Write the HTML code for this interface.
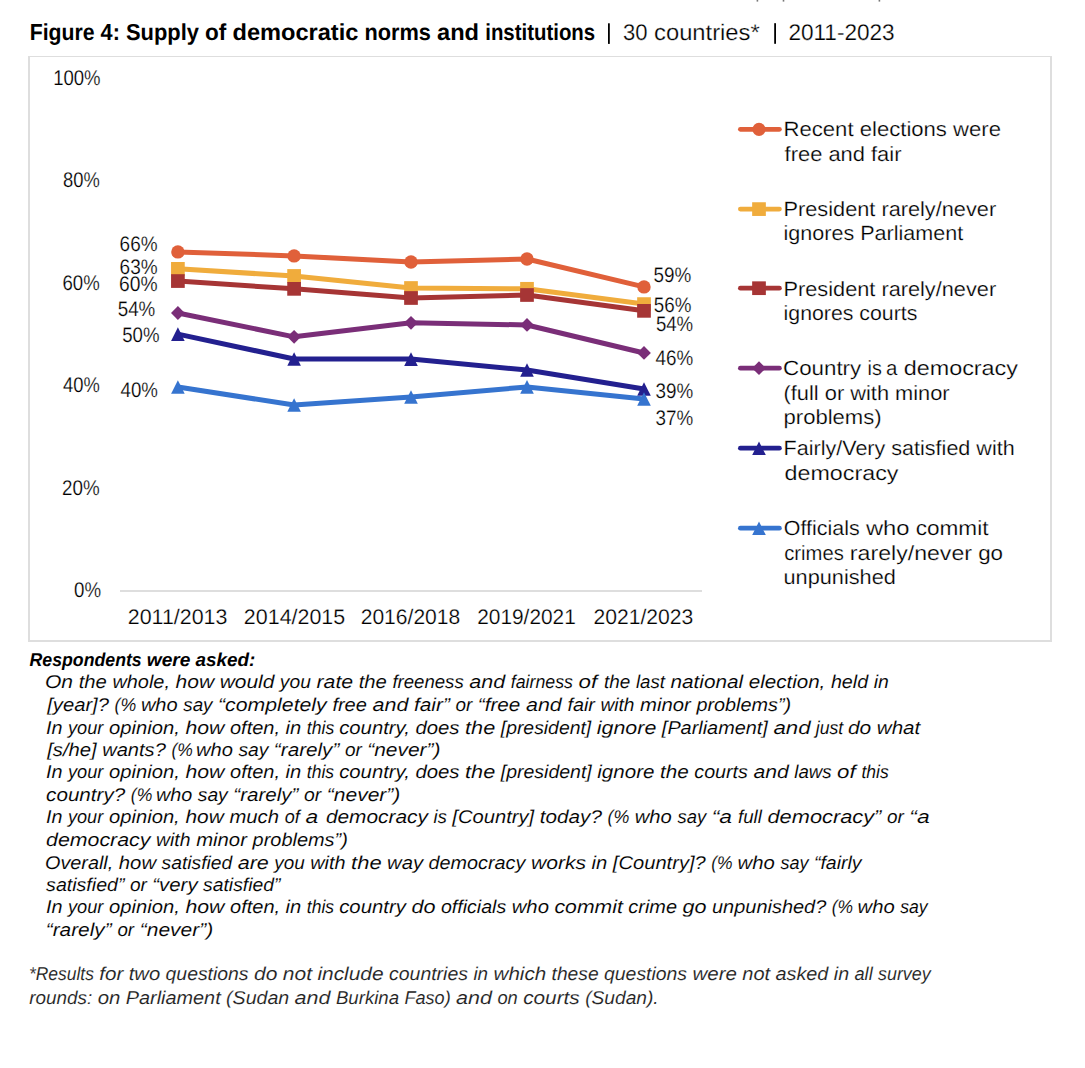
<!DOCTYPE html>
<html><head><meta charset="utf-8"><style>
html,body{margin:0;padding:0;background:#fff;width:1085px;height:1068px;overflow:hidden}
svg{display:block;font-family:"Liberation Sans", sans-serif;text-rendering:geometricPrecision}
</style></head><body>
<svg width="1085" height="1068" viewBox="0 0 1085 1068">
<rect x="0" y="0" width="1085" height="1068" fill="#fff"/>
<rect x="756.6" y="0" width="1.6" height="1.6" fill="#777"/>
<rect x="782.7" y="0" width="1.6" height="1.6" fill="#777"/>
<rect x="878.6" y="0" width="1.6" height="1.6" fill="#777"/>
<rect x="28" y="56" width="1024" height="1" fill="#dedede"/>
<rect x="28" y="56" width="2" height="586" fill="#dedede"/>
<rect x="1050" y="56" width="2" height="586" fill="#dedede"/>
<rect x="28" y="640" width="1024" height="2" fill="#dedede"/>
<rect x="120" y="590" width="582" height="2" fill="#dedede"/>
<rect x="608.0" y="23.3" width="1.8" height="20.6" fill="#000"/>
<rect x="774.2" y="23.2" width="1.8" height="20.6" fill="#000"/>
<polyline points="177.9,251.90 294.1,255.90 411.0,262.00 527.0,259.00 644.0,286.90" fill="none" stroke="#E0603A" stroke-width="5" stroke-linejoin="round" stroke-linecap="round"/>
<circle cx="177.90" cy="251.90" r="6.7" fill="#E0603A"/>
<circle cx="294.10" cy="255.90" r="6.7" fill="#E0603A"/>
<circle cx="411.00" cy="262.00" r="6.7" fill="#E0603A"/>
<circle cx="527.00" cy="259.00" r="6.7" fill="#E0603A"/>
<circle cx="644.00" cy="286.90" r="6.7" fill="#E0603A"/>
<polyline points="177.9,268.85 294.1,275.95 411.0,288.00 527.0,288.80 644.0,304.10" fill="none" stroke="#F0AC3C" stroke-width="5" stroke-linejoin="round" stroke-linecap="round"/>
<rect x="171.05" y="262.00" width="13.7" height="13.7" fill="#F0AC3C"/>
<rect x="287.25" y="269.10" width="13.7" height="13.7" fill="#F0AC3C"/>
<rect x="404.15" y="281.15" width="13.7" height="13.7" fill="#F0AC3C"/>
<rect x="520.15" y="281.95" width="13.7" height="13.7" fill="#F0AC3C"/>
<rect x="637.15" y="297.25" width="13.7" height="13.7" fill="#F0AC3C"/>
<polyline points="177.9,281.05 294.1,288.85 411.0,298.00 527.0,295.00 644.0,310.85" fill="none" stroke="#A63535" stroke-width="5" stroke-linejoin="round" stroke-linecap="round"/>
<rect x="171.05" y="274.20" width="13.7" height="13.7" fill="#A63535"/>
<rect x="287.25" y="282.00" width="13.7" height="13.7" fill="#A63535"/>
<rect x="404.15" y="291.15" width="13.7" height="13.7" fill="#A63535"/>
<rect x="520.15" y="288.15" width="13.7" height="13.7" fill="#A63535"/>
<rect x="637.15" y="304.00" width="13.7" height="13.7" fill="#A63535"/>
<polyline points="177.9,313.00 294.1,336.85 411.0,322.85 527.0,324.95 644.0,352.95" fill="none" stroke="#7A2E78" stroke-width="5" stroke-linejoin="round" stroke-linecap="round"/>
<polygon points="177.90,306.10 184.80,313.00 177.90,319.90 171.00,313.00" fill="#7A2E78"/>
<polygon points="294.10,329.95 301.00,336.85 294.10,343.75 287.20,336.85" fill="#7A2E78"/>
<polygon points="411.00,315.95 417.90,322.85 411.00,329.75 404.10,322.85" fill="#7A2E78"/>
<polygon points="527.00,318.05 533.90,324.95 527.00,331.85 520.10,324.95" fill="#7A2E78"/>
<polygon points="644.00,346.05 650.90,352.95 644.00,359.85 637.10,352.95" fill="#7A2E78"/>
<polyline points="177.9,334.10 294.1,359.00 411.0,359.10 527.0,370.00 644.0,388.95" fill="none" stroke="#23208F" stroke-width="5" stroke-linejoin="round" stroke-linecap="round"/>
<polygon points="177.90,327.30 184.70,340.90 171.10,340.90" fill="#23208F"/>
<polygon points="294.10,352.20 300.90,365.80 287.30,365.80" fill="#23208F"/>
<polygon points="411.00,352.30 417.80,365.90 404.20,365.90" fill="#23208F"/>
<polygon points="527.00,363.20 533.80,376.80 520.20,376.80" fill="#23208F"/>
<polygon points="644.00,382.15 650.80,395.75 637.20,395.75" fill="#23208F"/>
<polyline points="177.9,387.05 294.1,405.00 411.0,397.05 527.0,386.90 644.0,398.95" fill="none" stroke="#3674CF" stroke-width="5" stroke-linejoin="round" stroke-linecap="round"/>
<polygon points="177.90,380.25 184.70,393.85 171.10,393.85" fill="#3674CF"/>
<polygon points="294.10,398.20 300.90,411.80 287.30,411.80" fill="#3674CF"/>
<polygon points="411.00,390.25 417.80,403.85 404.20,403.85" fill="#3674CF"/>
<polygon points="527.00,380.10 533.80,393.70 520.20,393.70" fill="#3674CF"/>
<polygon points="644.00,392.15 650.80,405.75 637.20,405.75" fill="#3674CF"/>
<line x1="740.4" y1="129.3" x2="779.4" y2="129.3" stroke="#E0603A" stroke-width="4.8" stroke-linecap="round"/>
<circle cx="759.00" cy="129.30" r="6.6" fill="#E0603A"/>
<line x1="740.4" y1="209.1" x2="779.4" y2="209.1" stroke="#F0AC3C" stroke-width="4.8" stroke-linecap="round"/>
<rect x="752.15" y="202.25" width="13.7" height="13.7" fill="#F0AC3C"/>
<line x1="740.4" y1="288.2" x2="779.4" y2="288.2" stroke="#A63535" stroke-width="4.8" stroke-linecap="round"/>
<rect x="752.15" y="281.35" width="13.7" height="13.7" fill="#A63535"/>
<line x1="740.4" y1="368.2" x2="779.4" y2="368.2" stroke="#7A2E78" stroke-width="4.8" stroke-linecap="round"/>
<polygon points="759.00,361.30 765.90,368.20 759.00,375.10 752.10,368.20" fill="#7A2E78"/>
<line x1="740.4" y1="448.2" x2="779.4" y2="448.2" stroke="#23208F" stroke-width="4.8" stroke-linecap="round"/>
<polygon points="759.00,441.40 765.80,455.00 752.20,455.00" fill="#23208F"/>
<line x1="740.4" y1="528.2" x2="779.4" y2="528.2" stroke="#3674CF" stroke-width="4.8" stroke-linecap="round"/>
<polygon points="759.00,521.40 765.80,535.00 752.20,535.00" fill="#3674CF"/>
<text x="29.68" y="39.90" font-size="23.1" font-weight="bold" textLength="64.84" lengthAdjust="spacingAndGlyphs">Figure</text>
<text x="100.60" y="39.90" font-size="23.1" font-weight="bold" textLength="19.29" lengthAdjust="spacingAndGlyphs">4:</text>
<text x="126.00" y="39.90" font-size="23.1" font-weight="bold" textLength="72.99" lengthAdjust="spacingAndGlyphs">Supply</text>
<text x="205.10" y="39.90" font-size="23.1" font-weight="bold" textLength="21.29" lengthAdjust="spacingAndGlyphs">of</text>
<text x="232.50" y="39.90" font-size="23.1" font-weight="bold" textLength="125.84" lengthAdjust="spacingAndGlyphs">democratic</text>
<text x="364.46" y="39.90" font-size="23.1" font-weight="bold" textLength="66.44" lengthAdjust="spacingAndGlyphs">norms</text>
<text x="437.00" y="39.90" font-size="23.1" font-weight="bold" textLength="42.04" lengthAdjust="spacingAndGlyphs">and</text>
<text x="485.22" y="39.90" font-size="23.1" font-weight="bold" textLength="109.93" lengthAdjust="spacingAndGlyphs">institutions</text>
<text x="623.10" y="39.60" font-size="22.6" textLength="24.50" lengthAdjust="spacingAndGlyphs" stroke="#fff" stroke-width="0.25">30</text>
<text x="654.10" y="39.60" font-size="22.6" textLength="105.58" lengthAdjust="spacingAndGlyphs" stroke="#fff" stroke-width="0.25">countries*</text>
<text x="788.40" y="39.50" font-size="22.6" textLength="106.26" lengthAdjust="spacingAndGlyphs" stroke="#fff" stroke-width="0.25">2011-2023</text>
<text x="53.13" y="84.60" font-size="21.3" textLength="47.42" lengthAdjust="spacingAndGlyphs" stroke="#fff" stroke-width="0.22">100%</text>
<text x="63.00" y="186.60" font-size="21.3" textLength="36.75" lengthAdjust="spacingAndGlyphs" stroke="#fff" stroke-width="0.22">80%</text>
<text x="62.53" y="289.60" font-size="21.3" textLength="37.22" lengthAdjust="spacingAndGlyphs" stroke="#fff" stroke-width="0.22">60%</text>
<text x="63.00" y="391.60" font-size="21.3" textLength="36.75" lengthAdjust="spacingAndGlyphs" stroke="#fff" stroke-width="0.22">40%</text>
<text x="62.12" y="494.60" font-size="21.3" textLength="37.63" lengthAdjust="spacingAndGlyphs" stroke="#fff" stroke-width="0.22">20%</text>
<text x="74.10" y="596.60" font-size="21.3" textLength="27.04" lengthAdjust="spacingAndGlyphs" stroke="#fff" stroke-width="0.22">0%</text>
<text x="127.78" y="623.90" font-size="21.0" textLength="99.61" lengthAdjust="spacingAndGlyphs" stroke="#fff" stroke-width="0.22">2011/2013</text>
<text x="243.88" y="623.90" font-size="21.0" textLength="101.31" lengthAdjust="spacingAndGlyphs" stroke="#fff" stroke-width="0.22">2014/2015</text>
<text x="360.70" y="623.90" font-size="21.0" textLength="99.58" lengthAdjust="spacingAndGlyphs" stroke="#fff" stroke-width="0.22">2016/2018</text>
<text x="477.21" y="623.90" font-size="21.0" textLength="98.57" lengthAdjust="spacingAndGlyphs" stroke="#fff" stroke-width="0.22">2019/2021</text>
<text x="593.49" y="623.90" font-size="21.0" textLength="99.89" lengthAdjust="spacingAndGlyphs" stroke="#fff" stroke-width="0.22">2021/2023</text>
<text x="119.60" y="251.10" font-size="21.0" textLength="37.91" lengthAdjust="spacingAndGlyphs" stroke="#fff" stroke-width="0.22">66%</text>
<text x="119.60" y="274.20" font-size="21.0" textLength="38.01" lengthAdjust="spacingAndGlyphs" stroke="#fff" stroke-width="0.22">63%</text>
<text x="118.98" y="290.70" font-size="21.0" textLength="38.53" lengthAdjust="spacingAndGlyphs" stroke="#fff" stroke-width="0.22">60%</text>
<text x="117.70" y="315.90" font-size="21.0" textLength="37.60" lengthAdjust="spacingAndGlyphs" stroke="#fff" stroke-width="0.22">54%</text>
<text x="122.20" y="341.50" font-size="21.0" textLength="37.30" lengthAdjust="spacingAndGlyphs" stroke="#fff" stroke-width="0.22">50%</text>
<text x="120.50" y="396.80" font-size="21.0" textLength="37.40" lengthAdjust="spacingAndGlyphs" stroke="#fff" stroke-width="0.22">40%</text>
<text x="653.60" y="282.10" font-size="21.0" textLength="37.80" lengthAdjust="spacingAndGlyphs" stroke="#fff" stroke-width="0.22">59%</text>
<text x="653.80" y="311.90" font-size="21.0" textLength="37.60" lengthAdjust="spacingAndGlyphs" stroke="#fff" stroke-width="0.22">56%</text>
<text x="655.90" y="330.80" font-size="21.0" textLength="37.30" lengthAdjust="spacingAndGlyphs" stroke="#fff" stroke-width="0.22">54%</text>
<text x="655.50" y="364.60" font-size="21.0" textLength="37.70" lengthAdjust="spacingAndGlyphs" stroke="#fff" stroke-width="0.22">46%</text>
<text x="655.50" y="398.00" font-size="21.0" textLength="37.70" lengthAdjust="spacingAndGlyphs" stroke="#fff" stroke-width="0.22">39%</text>
<text x="655.50" y="425.10" font-size="21.0" textLength="37.70" lengthAdjust="spacingAndGlyphs" stroke="#fff" stroke-width="0.22">37%</text>
<text x="783.53" y="135.80" font-size="20.6" textLength="217.46" lengthAdjust="spacingAndGlyphs" stroke="#fff" stroke-width="0.22">Recent elections were</text>
<text x="784.60" y="160.70" font-size="20.6" textLength="116.85" lengthAdjust="spacingAndGlyphs" stroke="#fff" stroke-width="0.22">free and fair</text>
<text x="783.54" y="215.80" font-size="20.6" textLength="212.61" lengthAdjust="spacingAndGlyphs" stroke="#fff" stroke-width="0.22">President rarely/never</text>
<text x="783.55" y="240.20" font-size="20.6" textLength="179.66" lengthAdjust="spacingAndGlyphs" stroke="#fff" stroke-width="0.22">ignores Parliament</text>
<text x="783.54" y="295.50" font-size="20.6" textLength="212.61" lengthAdjust="spacingAndGlyphs" stroke="#fff" stroke-width="0.22">President rarely/never</text>
<text x="783.57" y="319.80" font-size="20.6" textLength="133.84" lengthAdjust="spacingAndGlyphs" stroke="#fff" stroke-width="0.22">ignores courts</text>
<text x="783.02" y="375.20" font-size="20.6" textLength="78.18" lengthAdjust="spacingAndGlyphs" stroke="#fff" stroke-width="0.22">Country</text>
<text x="867.54" y="375.20" font-size="20.6" textLength="14.22" lengthAdjust="spacingAndGlyphs" stroke="#fff" stroke-width="0.22">is</text>
<text x="886.10" y="375.20" font-size="20.6" textLength="11.38" lengthAdjust="spacingAndGlyphs" stroke="#fff" stroke-width="0.22">a</text>
<text x="903.70" y="375.20" font-size="20.6" textLength="114.30" lengthAdjust="spacingAndGlyphs" stroke="#fff" stroke-width="0.22">democracy</text>
<text x="783.54" y="399.60" font-size="20.6" textLength="166.11" lengthAdjust="spacingAndGlyphs" stroke="#fff" stroke-width="0.22">(full or with minor</text>
<text x="783.53" y="424.00" font-size="20.6" textLength="98.09" lengthAdjust="spacingAndGlyphs" stroke="#fff" stroke-width="0.22">problems)</text>
<text x="783.55" y="455.20" font-size="20.6" textLength="231.12" lengthAdjust="spacingAndGlyphs" stroke="#fff" stroke-width="0.22">Fairly/Very satisfied with</text>
<text x="784.60" y="479.60" font-size="20.6" textLength="113.81" lengthAdjust="spacingAndGlyphs" stroke="#fff" stroke-width="0.22">democracy</text>
<text x="783.80" y="535.20" font-size="20.6" textLength="75.87" lengthAdjust="spacingAndGlyphs" stroke="#fff" stroke-width="0.22">Officials</text>
<text x="865.95" y="535.20" font-size="20.6" textLength="43.60" lengthAdjust="spacingAndGlyphs" stroke="#fff" stroke-width="0.22">who</text>
<text x="915.70" y="535.20" font-size="20.6" textLength="72.79" lengthAdjust="spacingAndGlyphs" stroke="#fff" stroke-width="0.22">commit</text>
<text x="784.20" y="559.60" font-size="20.6" textLength="59.58" lengthAdjust="spacingAndGlyphs" stroke="#fff" stroke-width="0.22">crimes</text>
<text x="849.88" y="559.60" font-size="20.6" textLength="122.13" lengthAdjust="spacingAndGlyphs" stroke="#fff" stroke-width="0.22">rarely/never</text>
<text x="978.20" y="559.60" font-size="20.6" textLength="24.89" lengthAdjust="spacingAndGlyphs" stroke="#fff" stroke-width="0.22">go</text>
<text x="783.55" y="584.00" font-size="20.6" textLength="112.23" lengthAdjust="spacingAndGlyphs" stroke="#fff" stroke-width="0.22">unpunished</text>
<text x="29.50" y="665.90" font-size="18.7" font-weight="bold" font-style="italic" textLength="112.22" lengthAdjust="spacingAndGlyphs">Respondents</text>
<text x="146.80" y="665.90" font-size="18.7" font-weight="bold" font-style="italic" textLength="43.62" lengthAdjust="spacingAndGlyphs">were</text>
<text x="195.50" y="665.90" font-size="18.7" font-weight="bold" font-style="italic" textLength="59.73" lengthAdjust="spacingAndGlyphs">asked:</text>
<text x="44.96" y="688.00" font-size="18.5" font-style="italic" textLength="28.12" lengthAdjust="spacingAndGlyphs" stroke="#fff" stroke-width="0.1">On</text>
<text x="78.70" y="688.00" font-size="18.5" font-style="italic" textLength="28.14" lengthAdjust="spacingAndGlyphs" stroke="#fff" stroke-width="0.1">the</text>
<text x="112.40" y="688.00" font-size="18.5" font-style="italic" textLength="57.54" lengthAdjust="spacingAndGlyphs" stroke="#fff" stroke-width="0.1">whole,</text>
<text x="175.50" y="688.00" font-size="18.5" font-style="italic" textLength="38.64" lengthAdjust="spacingAndGlyphs" stroke="#fff" stroke-width="0.1">how</text>
<text x="219.70" y="688.00" font-size="18.5" font-style="italic" textLength="54.71" lengthAdjust="spacingAndGlyphs" stroke="#fff" stroke-width="0.1">would</text>
<text x="279.88" y="688.00" font-size="18.5" font-style="italic" textLength="30.98" lengthAdjust="spacingAndGlyphs" stroke="#fff" stroke-width="0.1">you</text>
<text x="316.50" y="688.00" font-size="18.5" font-style="italic" textLength="36.64" lengthAdjust="spacingAndGlyphs" stroke="#fff" stroke-width="0.1">rate</text>
<text x="358.70" y="688.00" font-size="18.5" font-style="italic" textLength="28.14" lengthAdjust="spacingAndGlyphs" stroke="#fff" stroke-width="0.1">the</text>
<text x="392.40" y="688.00" font-size="18.5" font-style="italic" textLength="71.34" lengthAdjust="spacingAndGlyphs" stroke="#fff" stroke-width="0.1">freeness</text>
<text x="469.30" y="688.00" font-size="18.5" font-style="italic" textLength="35.94" lengthAdjust="spacingAndGlyphs" stroke="#fff" stroke-width="0.1">and</text>
<text x="510.80" y="688.00" font-size="18.5" font-style="italic" textLength="62.14" lengthAdjust="spacingAndGlyphs" stroke="#fff" stroke-width="0.1">fairness</text>
<text x="578.50" y="688.00" font-size="18.5" font-style="italic" textLength="18.68" lengthAdjust="spacingAndGlyphs" stroke="#fff" stroke-width="0.1">of</text>
<text x="604.10" y="688.00" font-size="18.5" font-style="italic" textLength="26.24" lengthAdjust="spacingAndGlyphs" stroke="#fff" stroke-width="0.1">the</text>
<text x="635.90" y="688.00" font-size="18.5" font-style="italic" textLength="29.04" lengthAdjust="spacingAndGlyphs" stroke="#fff" stroke-width="0.1">last</text>
<text x="670.50" y="688.00" font-size="18.5" font-style="italic" textLength="72.64" lengthAdjust="spacingAndGlyphs" stroke="#fff" stroke-width="0.1">national</text>
<text x="748.70" y="688.00" font-size="18.5" font-style="italic" textLength="76.64" lengthAdjust="spacingAndGlyphs" stroke="#fff" stroke-width="0.1">election,</text>
<text x="830.90" y="688.00" font-size="18.5" font-style="italic" textLength="37.24" lengthAdjust="spacingAndGlyphs" stroke="#fff" stroke-width="0.1">held</text>
<text x="873.70" y="688.00" font-size="18.5" font-style="italic" textLength="15.10" lengthAdjust="spacingAndGlyphs" stroke="#fff" stroke-width="0.1">in</text>
<text x="47.19" y="711.10" font-size="18.5" font-style="italic" textLength="61.80" lengthAdjust="spacingAndGlyphs" stroke="#fff" stroke-width="0.1">[year]?</text>
<text x="114.60" y="711.10" font-size="18.5" font-style="italic" textLength="21.72" lengthAdjust="spacingAndGlyphs" stroke="#fff" stroke-width="0.1">(%</text>
<text x="140.90" y="711.10" font-size="18.5" font-style="italic" textLength="36.79" lengthAdjust="spacingAndGlyphs" stroke="#fff" stroke-width="0.1">who</text>
<text x="183.30" y="711.10" font-size="18.5" font-style="italic" textLength="29.20" lengthAdjust="spacingAndGlyphs" stroke="#fff" stroke-width="0.1">say</text>
<text x="218.05" y="711.10" font-size="18.5" font-style="italic" textLength="108.68" lengthAdjust="spacingAndGlyphs" stroke="#fff" stroke-width="0.1">“completely</text>
<text x="332.40" y="711.10" font-size="18.5" font-style="italic" textLength="34.49" lengthAdjust="spacingAndGlyphs" stroke="#fff" stroke-width="0.1">free</text>
<text x="372.50" y="711.10" font-size="18.5" font-style="italic" textLength="35.89" lengthAdjust="spacingAndGlyphs" stroke="#fff" stroke-width="0.1">and</text>
<text x="414.00" y="711.10" font-size="18.5" font-style="italic" textLength="35.89" lengthAdjust="spacingAndGlyphs" stroke="#fff" stroke-width="0.1">fair”</text>
<text x="455.50" y="711.10" font-size="18.5" font-style="italic" textLength="16.80" lengthAdjust="spacingAndGlyphs" stroke="#fff" stroke-width="0.1">or</text>
<text x="477.88" y="711.10" font-size="18.5" font-style="italic" textLength="42.48" lengthAdjust="spacingAndGlyphs" stroke="#fff" stroke-width="0.1">“free</text>
<text x="526.00" y="711.10" font-size="18.5" font-style="italic" textLength="35.79" lengthAdjust="spacingAndGlyphs" stroke="#fff" stroke-width="0.1">and</text>
<text x="567.40" y="711.10" font-size="18.5" font-style="italic" textLength="27.49" lengthAdjust="spacingAndGlyphs" stroke="#fff" stroke-width="0.1">fair</text>
<text x="600.50" y="711.10" font-size="18.5" font-style="italic" textLength="33.99" lengthAdjust="spacingAndGlyphs" stroke="#fff" stroke-width="0.1">with</text>
<text x="640.10" y="711.10" font-size="18.5" font-style="italic" textLength="50.78" lengthAdjust="spacingAndGlyphs" stroke="#fff" stroke-width="0.1">minor</text>
<text x="696.47" y="711.10" font-size="18.5" font-style="italic" textLength="94.70" lengthAdjust="spacingAndGlyphs" stroke="#fff" stroke-width="0.1">problems”)</text>
<text x="46.10" y="733.60" font-size="18.5" font-style="italic" textLength="16.50" lengthAdjust="spacingAndGlyphs" stroke="#fff" stroke-width="0.1">In</text>
<text x="67.97" y="733.60" font-size="18.5" font-style="italic" textLength="35.38" lengthAdjust="spacingAndGlyphs" stroke="#fff" stroke-width="0.1">your</text>
<text x="109.10" y="733.60" font-size="18.5" font-style="italic" textLength="70.74" lengthAdjust="spacingAndGlyphs" stroke="#fff" stroke-width="0.1">opinion,</text>
<text x="185.40" y="733.60" font-size="18.5" font-style="italic" textLength="39.04" lengthAdjust="spacingAndGlyphs" stroke="#fff" stroke-width="0.1">how</text>
<text x="230.00" y="733.60" font-size="18.5" font-style="italic" textLength="50.04" lengthAdjust="spacingAndGlyphs" stroke="#fff" stroke-width="0.1">often,</text>
<text x="285.60" y="733.60" font-size="18.5" font-style="italic" textLength="15.64" lengthAdjust="spacingAndGlyphs" stroke="#fff" stroke-width="0.1">in</text>
<text x="306.80" y="733.60" font-size="18.5" font-style="italic" textLength="27.41" lengthAdjust="spacingAndGlyphs" stroke="#fff" stroke-width="0.1">this</text>
<text x="339.20" y="733.60" font-size="18.5" font-style="italic" textLength="70.64" lengthAdjust="spacingAndGlyphs" stroke="#fff" stroke-width="0.1">country,</text>
<text x="415.40" y="733.60" font-size="18.5" font-style="italic" textLength="44.14" lengthAdjust="spacingAndGlyphs" stroke="#fff" stroke-width="0.1">does</text>
<text x="465.10" y="733.60" font-size="18.5" font-style="italic" textLength="30.12" lengthAdjust="spacingAndGlyphs" stroke="#fff" stroke-width="0.1">the</text>
<text x="500.75" y="733.60" font-size="18.5" font-style="italic" textLength="90.46" lengthAdjust="spacingAndGlyphs" stroke="#fff" stroke-width="0.1">[president]</text>
<text x="596.80" y="733.60" font-size="18.5" font-style="italic" textLength="59.52" lengthAdjust="spacingAndGlyphs" stroke="#fff" stroke-width="0.1">ignore</text>
<text x="661.87" y="733.60" font-size="18.5" font-style="italic" textLength="105.96" lengthAdjust="spacingAndGlyphs" stroke="#fff" stroke-width="0.1">[Parliament]</text>
<text x="773.40" y="733.60" font-size="18.5" font-style="italic" textLength="37.18" lengthAdjust="spacingAndGlyphs" stroke="#fff" stroke-width="0.1">and</text>
<text x="815.76" y="733.60" font-size="18.5" font-style="italic" textLength="27.41" lengthAdjust="spacingAndGlyphs" stroke="#fff" stroke-width="0.1">just</text>
<text x="847.90" y="733.60" font-size="18.5" font-style="italic" textLength="23.34" lengthAdjust="spacingAndGlyphs" stroke="#fff" stroke-width="0.1">do</text>
<text x="876.80" y="733.60" font-size="18.5" font-style="italic" textLength="43.44" lengthAdjust="spacingAndGlyphs" stroke="#fff" stroke-width="0.1">what</text>
<text x="47.19" y="755.70" font-size="18.5" font-style="italic" textLength="49.48" lengthAdjust="spacingAndGlyphs" stroke="#fff" stroke-width="0.1">[s/he]</text>
<text x="102.20" y="755.70" font-size="18.5" font-style="italic" textLength="63.66" lengthAdjust="spacingAndGlyphs" stroke="#fff" stroke-width="0.1">wants?</text>
<text x="171.40" y="755.70" font-size="18.5" font-style="italic" textLength="21.44" lengthAdjust="spacingAndGlyphs" stroke="#fff" stroke-width="0.1">(%</text>
<text x="195.90" y="755.70" font-size="18.5" font-style="italic" textLength="36.96" lengthAdjust="spacingAndGlyphs" stroke="#fff" stroke-width="0.1">who</text>
<text x="238.40" y="755.70" font-size="18.5" font-style="italic" textLength="29.98" lengthAdjust="spacingAndGlyphs" stroke="#fff" stroke-width="0.1">say</text>
<text x="273.88" y="755.70" font-size="18.5" font-style="italic" textLength="65.44" lengthAdjust="spacingAndGlyphs" stroke="#fff" stroke-width="0.1">“rarely”</text>
<text x="344.90" y="755.70" font-size="18.5" font-style="italic" textLength="16.88" lengthAdjust="spacingAndGlyphs" stroke="#fff" stroke-width="0.1">or</text>
<text x="367.27" y="755.70" font-size="18.5" font-style="italic" textLength="73.21" lengthAdjust="spacingAndGlyphs" stroke="#fff" stroke-width="0.1">“never”)</text>
<text x="46.10" y="777.50" font-size="18.5" font-style="italic" textLength="16.52" lengthAdjust="spacingAndGlyphs" stroke="#fff" stroke-width="0.1">In</text>
<text x="67.97" y="777.50" font-size="18.5" font-style="italic" textLength="35.42" lengthAdjust="spacingAndGlyphs" stroke="#fff" stroke-width="0.1">your</text>
<text x="109.10" y="777.50" font-size="18.5" font-style="italic" textLength="70.77" lengthAdjust="spacingAndGlyphs" stroke="#fff" stroke-width="0.1">opinion,</text>
<text x="185.40" y="777.50" font-size="18.5" font-style="italic" textLength="39.07" lengthAdjust="spacingAndGlyphs" stroke="#fff" stroke-width="0.1">how</text>
<text x="230.00" y="777.50" font-size="18.5" font-style="italic" textLength="50.07" lengthAdjust="spacingAndGlyphs" stroke="#fff" stroke-width="0.1">often,</text>
<text x="285.60" y="777.50" font-size="18.5" font-style="italic" textLength="15.67" lengthAdjust="spacingAndGlyphs" stroke="#fff" stroke-width="0.1">in</text>
<text x="306.80" y="777.50" font-size="18.5" font-style="italic" textLength="27.25" lengthAdjust="spacingAndGlyphs" stroke="#fff" stroke-width="0.1">this</text>
<text x="339.20" y="777.50" font-size="18.5" font-style="italic" textLength="70.67" lengthAdjust="spacingAndGlyphs" stroke="#fff" stroke-width="0.1">country,</text>
<text x="415.40" y="777.50" font-size="18.5" font-style="italic" textLength="44.17" lengthAdjust="spacingAndGlyphs" stroke="#fff" stroke-width="0.1">does</text>
<text x="465.10" y="777.50" font-size="18.5" font-style="italic" textLength="30.15" lengthAdjust="spacingAndGlyphs" stroke="#fff" stroke-width="0.1">the</text>
<text x="500.75" y="777.50" font-size="18.5" font-style="italic" textLength="91.00" lengthAdjust="spacingAndGlyphs" stroke="#fff" stroke-width="0.1">[president]</text>
<text x="597.30" y="777.50" font-size="18.5" font-style="italic" textLength="57.17" lengthAdjust="spacingAndGlyphs" stroke="#fff" stroke-width="0.1">ignore</text>
<text x="660.00" y="777.50" font-size="18.5" font-style="italic" textLength="28.77" lengthAdjust="spacingAndGlyphs" stroke="#fff" stroke-width="0.1">the</text>
<text x="694.30" y="777.50" font-size="18.5" font-style="italic" textLength="53.57" lengthAdjust="spacingAndGlyphs" stroke="#fff" stroke-width="0.1">courts</text>
<text x="753.40" y="777.50" font-size="18.5" font-style="italic" textLength="35.37" lengthAdjust="spacingAndGlyphs" stroke="#fff" stroke-width="0.1">and</text>
<text x="794.30" y="777.50" font-size="18.5" font-style="italic" textLength="37.27" lengthAdjust="spacingAndGlyphs" stroke="#fff" stroke-width="0.1">laws</text>
<text x="837.10" y="777.50" font-size="18.5" font-style="italic" textLength="18.59" lengthAdjust="spacingAndGlyphs" stroke="#fff" stroke-width="0.1">of</text>
<text x="861.40" y="777.50" font-size="18.5" font-style="italic" textLength="27.25" lengthAdjust="spacingAndGlyphs" stroke="#fff" stroke-width="0.1">this</text>
<text x="46.10" y="801.40" font-size="18.5" font-style="italic" textLength="79.13" lengthAdjust="spacingAndGlyphs" stroke="#fff" stroke-width="0.1">country?</text>
<text x="130.80" y="801.40" font-size="18.5" font-style="italic" textLength="21.56" lengthAdjust="spacingAndGlyphs" stroke="#fff" stroke-width="0.1">(%</text>
<text x="155.90" y="801.40" font-size="18.5" font-style="italic" textLength="36.33" lengthAdjust="spacingAndGlyphs" stroke="#fff" stroke-width="0.1">who</text>
<text x="197.80" y="801.40" font-size="18.5" font-style="italic" textLength="29.95" lengthAdjust="spacingAndGlyphs" stroke="#fff" stroke-width="0.1">say</text>
<text x="233.29" y="801.40" font-size="18.5" font-style="italic" textLength="65.11" lengthAdjust="spacingAndGlyphs" stroke="#fff" stroke-width="0.1">“rarely”</text>
<text x="304.00" y="801.40" font-size="18.5" font-style="italic" textLength="17.25" lengthAdjust="spacingAndGlyphs" stroke="#fff" stroke-width="0.1">or</text>
<text x="326.76" y="801.40" font-size="18.5" font-style="italic" textLength="73.62" lengthAdjust="spacingAndGlyphs" stroke="#fff" stroke-width="0.1">“never”)</text>
<text x="46.10" y="823.00" font-size="18.5" font-style="italic" textLength="16.44" lengthAdjust="spacingAndGlyphs" stroke="#fff" stroke-width="0.1">In</text>
<text x="67.96" y="823.00" font-size="18.5" font-style="italic" textLength="35.24" lengthAdjust="spacingAndGlyphs" stroke="#fff" stroke-width="0.1">your</text>
<text x="109.10" y="823.00" font-size="18.5" font-style="italic" textLength="70.64" lengthAdjust="spacingAndGlyphs" stroke="#fff" stroke-width="0.1">opinion,</text>
<text x="185.40" y="823.00" font-size="18.5" font-style="italic" textLength="38.34" lengthAdjust="spacingAndGlyphs" stroke="#fff" stroke-width="0.1">how</text>
<text x="229.40" y="823.00" font-size="18.5" font-style="italic" textLength="49.64" lengthAdjust="spacingAndGlyphs" stroke="#fff" stroke-width="0.1">much</text>
<text x="284.70" y="823.00" font-size="18.5" font-style="italic" textLength="15.04" lengthAdjust="spacingAndGlyphs" stroke="#fff" stroke-width="0.1">of</text>
<text x="305.40" y="823.00" font-size="18.5" font-style="italic" textLength="12.68" lengthAdjust="spacingAndGlyphs" stroke="#fff" stroke-width="0.1">a</text>
<text x="325.90" y="823.00" font-size="18.5" font-style="italic" textLength="102.04" lengthAdjust="spacingAndGlyphs" stroke="#fff" stroke-width="0.1">democracy</text>
<text x="433.60" y="823.00" font-size="18.5" font-style="italic" textLength="13.14" lengthAdjust="spacingAndGlyphs" stroke="#fff" stroke-width="0.1">is</text>
<text x="452.39" y="823.00" font-size="18.5" font-style="italic" textLength="81.74" lengthAdjust="spacingAndGlyphs" stroke="#fff" stroke-width="0.1">[Country]</text>
<text x="539.80" y="823.00" font-size="18.5" font-style="italic" textLength="62.14" lengthAdjust="spacingAndGlyphs" stroke="#fff" stroke-width="0.1">today?</text>
<text x="607.60" y="823.00" font-size="18.5" font-style="italic" textLength="21.90" lengthAdjust="spacingAndGlyphs" stroke="#fff" stroke-width="0.1">(%</text>
<text x="634.70" y="823.00" font-size="18.5" font-style="italic" textLength="37.14" lengthAdjust="spacingAndGlyphs" stroke="#fff" stroke-width="0.1">who</text>
<text x="677.50" y="823.00" font-size="18.5" font-style="italic" textLength="28.64" lengthAdjust="spacingAndGlyphs" stroke="#fff" stroke-width="0.1">say</text>
<text x="711.67" y="823.00" font-size="18.5" font-style="italic" textLength="20.27" lengthAdjust="spacingAndGlyphs" stroke="#fff" stroke-width="0.1">“a</text>
<text x="738.00" y="823.00" font-size="18.5" font-style="italic" textLength="23.84" lengthAdjust="spacingAndGlyphs" stroke="#fff" stroke-width="0.1">full</text>
<text x="767.50" y="823.00" font-size="18.5" font-style="italic" textLength="113.84" lengthAdjust="spacingAndGlyphs" stroke="#fff" stroke-width="0.1">democracy”</text>
<text x="887.00" y="823.00" font-size="18.5" font-style="italic" textLength="16.84" lengthAdjust="spacingAndGlyphs" stroke="#fff" stroke-width="0.1">or</text>
<text x="909.37" y="823.00" font-size="18.5" font-style="italic" textLength="20.27" lengthAdjust="spacingAndGlyphs" stroke="#fff" stroke-width="0.1">“a</text>
<text x="46.10" y="845.60" font-size="18.5" font-style="italic" textLength="104.33" lengthAdjust="spacingAndGlyphs" stroke="#fff" stroke-width="0.1">democracy</text>
<text x="156.10" y="845.60" font-size="18.5" font-style="italic" textLength="34.43" lengthAdjust="spacingAndGlyphs" stroke="#fff" stroke-width="0.1">with</text>
<text x="196.20" y="845.60" font-size="18.5" font-style="italic" textLength="50.73" lengthAdjust="spacingAndGlyphs" stroke="#fff" stroke-width="0.1">minor</text>
<text x="252.58" y="845.60" font-size="18.5" font-style="italic" textLength="95.30" lengthAdjust="spacingAndGlyphs" stroke="#fff" stroke-width="0.1">problems”)</text>
<text x="45.03" y="869.30" font-size="18.5" font-style="italic" textLength="68.25" lengthAdjust="spacingAndGlyphs" stroke="#fff" stroke-width="0.1">Overall,</text>
<text x="118.80" y="869.30" font-size="18.5" font-style="italic" textLength="37.28" lengthAdjust="spacingAndGlyphs" stroke="#fff" stroke-width="0.1">how</text>
<text x="161.60" y="869.30" font-size="18.5" font-style="italic" textLength="70.58" lengthAdjust="spacingAndGlyphs" stroke="#fff" stroke-width="0.1">satisfied</text>
<text x="237.70" y="869.30" font-size="18.5" font-style="italic" textLength="31.13" lengthAdjust="spacingAndGlyphs" stroke="#fff" stroke-width="0.1">are</text>
<text x="274.24" y="869.30" font-size="18.5" font-style="italic" textLength="30.43" lengthAdjust="spacingAndGlyphs" stroke="#fff" stroke-width="0.1">you</text>
<text x="310.30" y="869.30" font-size="18.5" font-style="italic" textLength="35.28" lengthAdjust="spacingAndGlyphs" stroke="#fff" stroke-width="0.1">with</text>
<text x="351.10" y="869.30" font-size="18.5" font-style="italic" textLength="30.48" lengthAdjust="spacingAndGlyphs" stroke="#fff" stroke-width="0.1">the</text>
<text x="387.10" y="869.30" font-size="18.5" font-style="italic" textLength="35.98" lengthAdjust="spacingAndGlyphs" stroke="#fff" stroke-width="0.1">way</text>
<text x="428.60" y="869.30" font-size="18.5" font-style="italic" textLength="96.78" lengthAdjust="spacingAndGlyphs" stroke="#fff" stroke-width="0.1">democracy</text>
<text x="530.90" y="869.30" font-size="18.5" font-style="italic" textLength="55.18" lengthAdjust="spacingAndGlyphs" stroke="#fff" stroke-width="0.1">works</text>
<text x="591.60" y="869.30" font-size="18.5" font-style="italic" textLength="15.75" lengthAdjust="spacingAndGlyphs" stroke="#fff" stroke-width="0.1">in</text>
<text x="612.89" y="869.30" font-size="18.5" font-style="italic" textLength="92.90" lengthAdjust="spacingAndGlyphs" stroke="#fff" stroke-width="0.1">[Country]?</text>
<text x="711.30" y="869.30" font-size="18.5" font-style="italic" textLength="21.38" lengthAdjust="spacingAndGlyphs" stroke="#fff" stroke-width="0.1">(%</text>
<text x="737.60" y="869.30" font-size="18.5" font-style="italic" textLength="37.28" lengthAdjust="spacingAndGlyphs" stroke="#fff" stroke-width="0.1">who</text>
<text x="780.40" y="869.30" font-size="18.5" font-style="italic" textLength="28.00" lengthAdjust="spacingAndGlyphs" stroke="#fff" stroke-width="0.1">say</text>
<text x="813.95" y="869.30" font-size="18.5" font-style="italic" textLength="47.61" lengthAdjust="spacingAndGlyphs" stroke="#fff" stroke-width="0.1">“fairly</text>
<text x="46.10" y="891.00" font-size="18.5" font-style="italic" textLength="78.35" lengthAdjust="spacingAndGlyphs" stroke="#fff" stroke-width="0.1">satisfied”</text>
<text x="129.90" y="891.00" font-size="18.5" font-style="italic" textLength="16.99" lengthAdjust="spacingAndGlyphs" stroke="#fff" stroke-width="0.1">or</text>
<text x="152.30" y="891.00" font-size="18.5" font-style="italic" textLength="45.31" lengthAdjust="spacingAndGlyphs" stroke="#fff" stroke-width="0.1">“very</text>
<text x="203.10" y="891.00" font-size="18.5" font-style="italic" textLength="77.32" lengthAdjust="spacingAndGlyphs" stroke="#fff" stroke-width="0.1">satisfied”</text>
<text x="46.10" y="913.30" font-size="18.5" font-style="italic" textLength="16.53" lengthAdjust="spacingAndGlyphs" stroke="#fff" stroke-width="0.1">In</text>
<text x="67.97" y="913.30" font-size="18.5" font-style="italic" textLength="35.43" lengthAdjust="spacingAndGlyphs" stroke="#fff" stroke-width="0.1">your</text>
<text x="109.10" y="913.30" font-size="18.5" font-style="italic" textLength="70.78" lengthAdjust="spacingAndGlyphs" stroke="#fff" stroke-width="0.1">opinion,</text>
<text x="185.40" y="913.30" font-size="18.5" font-style="italic" textLength="39.08" lengthAdjust="spacingAndGlyphs" stroke="#fff" stroke-width="0.1">how</text>
<text x="230.00" y="913.30" font-size="18.5" font-style="italic" textLength="50.08" lengthAdjust="spacingAndGlyphs" stroke="#fff" stroke-width="0.1">often,</text>
<text x="285.60" y="913.30" font-size="18.5" font-style="italic" textLength="15.68" lengthAdjust="spacingAndGlyphs" stroke="#fff" stroke-width="0.1">in</text>
<text x="306.80" y="913.30" font-size="18.5" font-style="italic" textLength="27.21" lengthAdjust="spacingAndGlyphs" stroke="#fff" stroke-width="0.1">this</text>
<text x="339.20" y="913.30" font-size="18.5" font-style="italic" textLength="66.68" lengthAdjust="spacingAndGlyphs" stroke="#fff" stroke-width="0.1">country</text>
<text x="411.40" y="913.30" font-size="18.5" font-style="italic" textLength="24.08" lengthAdjust="spacingAndGlyphs" stroke="#fff" stroke-width="0.1">do</text>
<text x="441.00" y="913.30" font-size="18.5" font-style="italic" textLength="65.18" lengthAdjust="spacingAndGlyphs" stroke="#fff" stroke-width="0.1">officials</text>
<text x="511.70" y="913.30" font-size="18.5" font-style="italic" textLength="37.28" lengthAdjust="spacingAndGlyphs" stroke="#fff" stroke-width="0.1">who</text>
<text x="554.50" y="913.30" font-size="18.5" font-style="italic" textLength="68.28" lengthAdjust="spacingAndGlyphs" stroke="#fff" stroke-width="0.1">commit</text>
<text x="628.30" y="913.30" font-size="18.5" font-style="italic" textLength="48.68" lengthAdjust="spacingAndGlyphs" stroke="#fff" stroke-width="0.1">crime</text>
<text x="682.50" y="913.30" font-size="18.5" font-style="italic" textLength="23.98" lengthAdjust="spacingAndGlyphs" stroke="#fff" stroke-width="0.1">go</text>
<text x="712.00" y="913.30" font-size="18.5" font-style="italic" textLength="114.28" lengthAdjust="spacingAndGlyphs" stroke="#fff" stroke-width="0.1">unpunished?</text>
<text x="831.80" y="913.30" font-size="18.5" font-style="italic" textLength="21.37" lengthAdjust="spacingAndGlyphs" stroke="#fff" stroke-width="0.1">(%</text>
<text x="857.50" y="913.30" font-size="18.5" font-style="italic" textLength="37.18" lengthAdjust="spacingAndGlyphs" stroke="#fff" stroke-width="0.1">who</text>
<text x="900.20" y="913.30" font-size="18.5" font-style="italic" textLength="27.43" lengthAdjust="spacingAndGlyphs" stroke="#fff" stroke-width="0.1">say</text>
<text x="45.78" y="935.70" font-size="18.5" font-style="italic" textLength="65.88" lengthAdjust="spacingAndGlyphs" stroke="#fff" stroke-width="0.1">“rarely”</text>
<text x="117.40" y="935.70" font-size="18.5" font-style="italic" textLength="16.65" lengthAdjust="spacingAndGlyphs" stroke="#fff" stroke-width="0.1">or</text>
<text x="139.77" y="935.70" font-size="18.5" font-style="italic" textLength="73.42" lengthAdjust="spacingAndGlyphs" stroke="#fff" stroke-width="0.1">“never”)</text>
<text x="28.96" y="979.60" font-size="18.5" font-style="italic" fill="#222" textLength="64.93" lengthAdjust="spacingAndGlyphs" stroke="#fff" stroke-width="0.1">*Results</text>
<text x="99.20" y="979.60" font-size="18.5" font-style="italic" fill="#222" textLength="24.08" lengthAdjust="spacingAndGlyphs" stroke="#fff" stroke-width="0.1">for</text>
<text x="128.70" y="979.60" font-size="18.5" font-style="italic" fill="#222" textLength="31.48" lengthAdjust="spacingAndGlyphs" stroke="#fff" stroke-width="0.1">two</text>
<text x="165.60" y="979.60" font-size="18.5" font-style="italic" fill="#222" textLength="82.98" lengthAdjust="spacingAndGlyphs" stroke="#fff" stroke-width="0.1">questions</text>
<text x="254.00" y="979.60" font-size="18.5" font-style="italic" fill="#222" textLength="23.38" lengthAdjust="spacingAndGlyphs" stroke="#fff" stroke-width="0.1">do</text>
<text x="282.80" y="979.60" font-size="18.5" font-style="italic" fill="#222" textLength="29.18" lengthAdjust="spacingAndGlyphs" stroke="#fff" stroke-width="0.1">not</text>
<text x="317.40" y="979.60" font-size="18.5" font-style="italic" fill="#222" textLength="66.18" lengthAdjust="spacingAndGlyphs" stroke="#fff" stroke-width="0.1">include</text>
<text x="389.00" y="979.60" font-size="18.5" font-style="italic" fill="#222" textLength="78.98" lengthAdjust="spacingAndGlyphs" stroke="#fff" stroke-width="0.1">countries</text>
<text x="473.40" y="979.60" font-size="18.5" font-style="italic" fill="#222" textLength="14.68" lengthAdjust="spacingAndGlyphs" stroke="#fff" stroke-width="0.1">in</text>
<text x="493.50" y="979.60" font-size="18.5" font-style="italic" fill="#222" textLength="52.68" lengthAdjust="spacingAndGlyphs" stroke="#fff" stroke-width="0.1">which</text>
<text x="551.60" y="979.60" font-size="18.5" font-style="italic" fill="#222" textLength="46.98" lengthAdjust="spacingAndGlyphs" stroke="#fff" stroke-width="0.1">these</text>
<text x="604.00" y="979.60" font-size="18.5" font-style="italic" fill="#222" textLength="83.08" lengthAdjust="spacingAndGlyphs" stroke="#fff" stroke-width="0.1">questions</text>
<text x="692.50" y="979.60" font-size="18.5" font-style="italic" fill="#222" textLength="44.38" lengthAdjust="spacingAndGlyphs" stroke="#fff" stroke-width="0.1">were</text>
<text x="742.30" y="979.60" font-size="18.5" font-style="italic" fill="#222" textLength="27.78" lengthAdjust="spacingAndGlyphs" stroke="#fff" stroke-width="0.1">not</text>
<text x="775.50" y="979.60" font-size="18.5" font-style="italic" fill="#222" textLength="52.88" lengthAdjust="spacingAndGlyphs" stroke="#fff" stroke-width="0.1">asked</text>
<text x="833.80" y="979.60" font-size="18.5" font-style="italic" fill="#222" textLength="15.28" lengthAdjust="spacingAndGlyphs" stroke="#fff" stroke-width="0.1">in</text>
<text x="854.50" y="979.60" font-size="18.5" font-style="italic" fill="#222" textLength="18.18" lengthAdjust="spacingAndGlyphs" stroke="#fff" stroke-width="0.1">all</text>
<text x="878.10" y="979.60" font-size="18.5" font-style="italic" fill="#222" textLength="52.51" lengthAdjust="spacingAndGlyphs" stroke="#fff" stroke-width="0.1">survey</text>
<text x="29.30" y="1003.90" font-size="18.5" font-style="italic" fill="#222" textLength="62.97" lengthAdjust="spacingAndGlyphs" stroke="#fff" stroke-width="0.1">rounds:</text>
<text x="97.70" y="1003.90" font-size="18.5" font-style="italic" fill="#222" textLength="22.67" lengthAdjust="spacingAndGlyphs" stroke="#fff" stroke-width="0.1">on</text>
<text x="125.80" y="1003.90" font-size="18.5" font-style="italic" fill="#222" textLength="94.87" lengthAdjust="spacingAndGlyphs" stroke="#fff" stroke-width="0.1">Parliament</text>
<text x="226.10" y="1003.90" font-size="18.5" font-style="italic" fill="#222" textLength="63.07" lengthAdjust="spacingAndGlyphs" stroke="#fff" stroke-width="0.1">(Sudan</text>
<text x="294.60" y="1003.90" font-size="18.5" font-style="italic" fill="#222" textLength="35.87" lengthAdjust="spacingAndGlyphs" stroke="#fff" stroke-width="0.1">and</text>
<text x="335.90" y="1003.90" font-size="18.5" font-style="italic" fill="#222" textLength="63.17" lengthAdjust="spacingAndGlyphs" stroke="#fff" stroke-width="0.1">Burkina</text>
<text x="404.50" y="1003.90" font-size="18.5" font-style="italic" fill="#222" textLength="46.17" lengthAdjust="spacingAndGlyphs" stroke="#fff" stroke-width="0.1">Faso)</text>
<text x="456.10" y="1003.90" font-size="18.5" font-style="italic" fill="#222" textLength="35.87" lengthAdjust="spacingAndGlyphs" stroke="#fff" stroke-width="0.1">and</text>
<text x="497.40" y="1003.90" font-size="18.5" font-style="italic" fill="#222" textLength="20.37" lengthAdjust="spacingAndGlyphs" stroke="#fff" stroke-width="0.1">on</text>
<text x="523.20" y="1003.90" font-size="18.5" font-style="italic" fill="#222" textLength="56.57" lengthAdjust="spacingAndGlyphs" stroke="#fff" stroke-width="0.1">courts</text>
<text x="585.20" y="1003.90" font-size="18.5" font-style="italic" fill="#222" textLength="73.52" lengthAdjust="spacingAndGlyphs" stroke="#fff" stroke-width="0.1">(Sudan).</text>
</svg>
</body></html>
